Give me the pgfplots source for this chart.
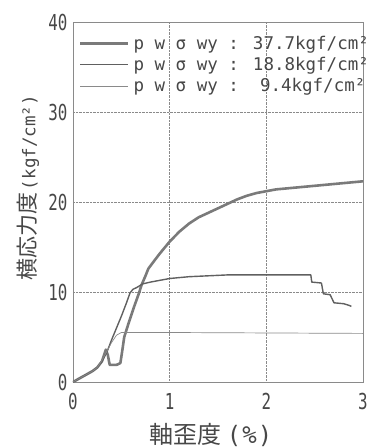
\documentclass[border=0pt]{standalone}
\usepackage{fontspec}
\usepackage{graphicx}
\usepackage{pgfplots}
\pgfplotsset{compat=1.18}
\setmainfont{Noto Sans CJK JP}
\newfontfamily\mono{DejaVu Sans Mono}
\definecolor{cthick}{HTML}{7A7A7A}
\definecolor{cmed}{HTML}{606060}
\definecolor{cthin}{HTML}{8A8A8A}
\definecolor{cframe}{HTML}{8A8A8A}
\newcommand{\tk}[1]{\scalebox{0.72}[1]{#1}}
\begin{document}
\begin{tikzpicture}
\path[use as bounding box] (-73pt,-66pt) rectangle (301pt,382pt);
\begin{axis}[
  at={(0,0)}, anchor=south west,
  scale only axis, width=290pt, height=360pt,
  xmin=0, xmax=3, ymin=0, ymax=40,
  xtick={0,1,2,3}, ytick={0,10,20,30,40},
  xticklabels={\tk{0},\tk{1},\tk{2},\tk{3}},
  yticklabels={\tk{0},\tk{10},\tk{20},\tk{30},\tk{40}},
  major tick length=0pt,
  axis line style={cframe, line width=0.6pt},
  grid=major,
  major grid style={cframe, densely dotted, line width=0.6pt},
  ticklabel style={font=\mono\fontsize{22}{22}\selectfont, text=black!72},
  yticklabel style={xshift=-2pt},
  xticklabel style={yshift=-8pt},
  xlabel={{\fontsize{24}{24}\selectfont 軸歪度}\hspace{5pt}{\mono\fontsize{24}{24}\selectfont(\hspace{1pt}\%\hspace{1pt})}},
  ylabel={{\fontsize{22}{22}\selectfont 横応力度}\hspace{2pt}{\mono\fontsize{17.5}{17.5}\selectfont(kgf/cm²)}},
  label style={text=black!72},
  xlabel style={at={(axis description cs:0.476,0)}, anchor=center, yshift=-53pt},
  ylabel style={at={(axis description cs:-0.155,0.54)}, anchor=center},
  legend cell align=left,
  legend style={draw=none, fill=none, inner sep=0pt, outer sep=0pt,
    at={(axis description cs:0,1)}, anchor=north west, xshift=6pt, yshift=-12pt,
    font=\mono\fontsize{17.5}{17.5}\selectfont, text=black!72,
    row sep=2.5pt, column sep=2pt},
]
\addplot[cthick, line width=2.6pt, line join=round,
  legend image code/.code={\draw[cthick, line width=2.6pt] (0pt,0pt) -- (48pt,0pt);}] coordinates {
(0,0) (0.1,0.6) (0.2,1.2) (0.25,1.6) (0.3,2.3) (0.34,3.6) (0.36,3.0) (0.38,1.9) (0.45,1.9) (0.49,2.1) (0.51,3.5) (0.53,5) (0.58,6.7) (0.63,8.3) (0.68,9.8) (0.71,10.8) (0.75,11.8) (0.78,12.6) (0.85,13.6) (0.9,14.3) (1.0,15.6) (1.1,16.7) (1.2,17.6) (1.3,18.3) (1.4,18.8) (1.5,19.3) (1.6,19.8) (1.7,20.3) (1.8,20.7) (1.9,21.0) (2.0,21.2) (2.1,21.4) (2.2,21.5) (2.4,21.7) (2.6,21.9) (2.8,22.1) (3.0,22.3)
};
\addlegendentry{p w σ wy : 37.7kgf/cm²}
\addplot[cmed, line width=1.4pt, line join=round,
  legend image code/.code={\draw[cmed, line width=1.4pt] (0pt,0pt) -- (48pt,0pt);}] coordinates {
(0,0) (0.1,0.6) (0.2,1.2) (0.25,1.6) (0.3,2.3) (0.35,3.3) (0.4,4.7) (0.45,6.0) (0.5,7.3) (0.55,8.7) (0.59,9.9) (0.62,10.3) (0.66,10.5) (0.72,10.9) (0.8,11.1) (0.9,11.3) (1.0,11.5) (1.2,11.7) (1.4,11.8) (1.6,11.9) (1.8,11.9) (2.0,11.9) (2.2,11.9) (2.46,11.9) (2.47,11.1) (2.57,11.0) (2.59,9.8) (2.66,9.7) (2.7,8.8) (2.8,8.7) (2.86,8.5) (2.88,8.4)
};
\addlegendentry{p w σ wy : 18.8kgf/cm²}
\addplot[cthin, line width=0.7pt, line join=round,
  legend image code/.code={\draw[cthin, line width=0.7pt] (0pt,0pt) -- (48pt,0pt);}] coordinates {
(0,0) (0.1,0.6) (0.2,1.2) (0.25,1.6) (0.3,2.4) (0.35,3.4) (0.4,4.4) (0.45,5.2) (0.5,5.5) (1,5.5) (2,5.45) (3,5.4)
};
\addlegendentry{p w σ wy :\ \ 9.4kgf/cm²}
\end{axis}
\end{tikzpicture}
\end{document}
